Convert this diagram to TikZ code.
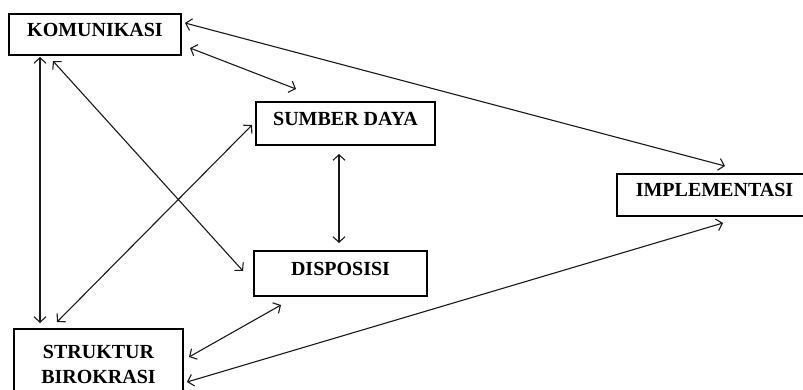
\documentclass[tikz,border=0pt]{standalone}
\usepackage{fontspec}
\setmainfont{Liberation Serif}
\usetikzlibrary{arrows.meta}
\begin{document}
\begin{tikzpicture}[x=1pt,y=-1pt,
  boxbase/.style={draw=black, line width=1.1pt, inner sep=0pt, fill=white,
    font=\fontsize{20}{25}\selectfont\bfseries},
  onebox/.style={boxbase, text height=13pt, text depth=10pt},
  twobox/.style={boxbase, align=center},
  link/.style={draw=black!90, line width=1.1pt,
    {Straight Barb[length=5.5pt,width=12pt,line width=1.1pt]}-{Straight Barb[length=5.5pt,width=12pt,line width=1.1pt]}}]
\useasboundingbox (0,0) rectangle (803,389);
\clip (0,0) rectangle (803,389);
\fill[white] (0,0) rectangle (803,389);
% boxes
\node[onebox, minimum width=172pt, minimum height=41pt] (kom) at (95,34.5) {KOMUNIKASI};
\node[onebox, minimum width=179pt, minimum height=43pt] (sd) at (345.5,123.5) {SUMBER DAYA};
\node[onebox, minimum width=173pt, minimum height=45pt] (disp) at (340.5,273.5) {DISPOSISI};
\node[onebox, minimum width=195pt, minimum height=42pt] (imp) at (714.5,195) {IMPLEMENTASI};
\node[twobox, minimum width=169pt, minimum height=71pt] (str) at (98.5,364.5) {STRUKTUR\\BIROKRASI};
% connector end points
\coordinate (kA) at (185,23);   \coordinate (iA) at (725,166);
\coordinate (kB) at (190,48);   \coordinate (sB) at (296,89);
\coordinate (kC) at (40,57);    \coordinate (tC) at (40,323);
\coordinate (kD) at (53,61);    \coordinate (dD) at (243,271);
\coordinate (tE) at (57,322);   \coordinate (sE) at (252,125);
\coordinate (sF) at (339,154);  \coordinate (dF) at (339,243);
\coordinate (tG) at (189,357);  \coordinate (dG) at (281,305);
\coordinate (tH) at (187,382);  \coordinate (iH) at (723,223);
% connectors
\draw[link] (kA) -- (iA);
\draw[link] (kB) -- (sB);
\draw[link] (kC) -- (tC);
\draw[link] (kD) -- (dD);
\draw[link] (tE) -- (sE);
\draw[link] (sF) -- (dF);
\draw[link] (tG) -- (dG);
\draw[link] (tH) -- (iH);
\end{tikzpicture}
\end{document}
